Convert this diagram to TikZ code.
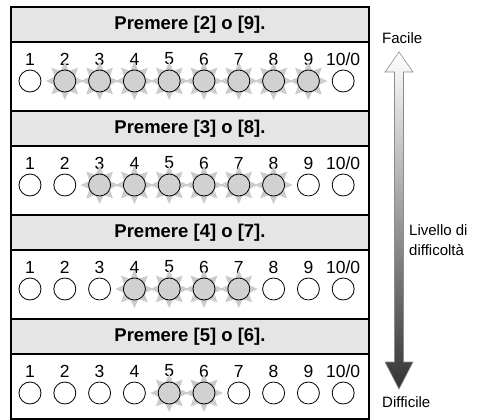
\documentclass[tikz,border=0pt]{standalone}
\usepackage{fontspec}
\setmainfont{Liberation Sans}
\usetikzlibrary{shapes.geometric}
\begin{document}
\begin{tikzpicture}[x=1pt,y=-1pt,
  hd/.style={rectangle,draw,line width=1.5pt,fill=black!10,minimum width=358pt,minimum height=35pt,inner sep=0pt,font=\bfseries\fontsize{18.5}{22}\selectfont},
  num/.style={inner sep=0pt,font=\fontsize{17.5}{20}\selectfont},
  led/.style={circle,draw,line width=0.8pt,minimum size=22pt,inner sep=0pt,fill=white},
  on/.style={led,fill=black!18},
  ray/.style={star,star points=8,star point ratio=1.75,minimum size=38pt,inner sep=0pt,fill=black!20},
  lbl/.style={inner sep=0pt,anchor=west,align=left,font=\fontsize{15}{20}\selectfont},
  bar/.style={draw=black!45,line width=0.6pt,top color=white,bottom color=black!80}]
\useasboundingbox (0,0) rectangle (488,420);
\draw[line width=1.5pt] (11,7) rectangle (369,419);
\foreach \r in {0,...,3}{
 \pgfmathsetmacro\t{7+104*\r}
 \node[hd] (h\r) at (190,\t+17.5) {Premere [\the\numexpr\r+2\relax] o [\the\numexpr9-\r\relax].};
 \foreach \i in {1,...,10}{
  \pgfmathsetmacro\x{30+34.8*(\i-1)}
  \pgfmathtruncatemacro\lit{and(\i>=\r+2,\i<=9-\r)}
  \node[num] (n\r-\i) at (\x,\t+52) {\ifnum\i=10 10/0\else\i\fi};
  \ifnum\lit=1
   \node[ray] (s\r-\i) at (\x,\t+74) {}; \node[on] (l\r-\i) at (\x,\t+74) {};
  \else
   \node[led] (l\r-\i) at (\x,\t+74) {};
  \fi
 }
}
% difficulty scale
\node[lbl] (fac) at (382,38) {Facile};
\node[lbl] (liv) at (409,240) {Livello di\\difficoltà};
\node[lbl] (dif) at (382,402) {Difficile};
\coordinate (up) at (399,52); \coordinate (dn) at (399,389);
\draw[bar] (up) -- ++(14,20) -- ++(-9.5,0) -- ++(0,290) -- ++(9.5,0) -- (dn) -- ++(-14,-27) -- ++(9.5,0) -- ++(0,-290) -- ++(-9.5,0) -- cycle;
\end{tikzpicture}
\end{document}
